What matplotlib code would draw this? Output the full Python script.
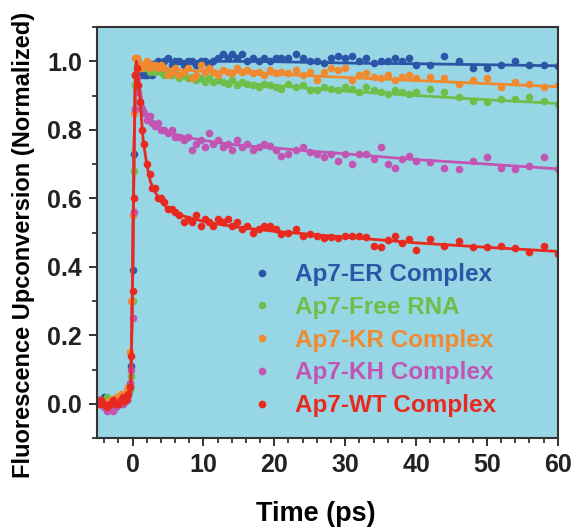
import numpy as np
import matplotlib.pyplot as plt
from matplotlib.ticker import MultipleLocator

plt.rcParams['font.family'] = ['Liberation Sans', 'DejaVu Sans']
plt.rcParams['font.weight'] = 'bold'

# tiempos de los puntos medidos (ps)
t_pts = [-4.8, -4.4, -4.0, -3.6, -3.2, -2.8, -2.4, -2.0, -1.6, -1.3, -1.0, -0.8, -0.6, -0.4, -0.2,
         0.0, 0.2, 0.4, 0.6, 0.8, 1.0, 1.3, 1.6,
         2.0, 2.4, 2.8, 3.2, 3.6, 4.0, 4.5, 5.0, 5.5, 6.0,
         6.6, 7.2, 7.8, 8.4, 9.0, 9.6, 10.2, 10.8, 11.4, 12.0,
         12.7, 13.4, 14.1, 14.8, 15.5, 16.2, 17.0, 17.8, 18.6, 19.4, 20.2,
         21, 22, 23, 24, 25, 26, 27, 28, 29, 30, 31, 32, 33, 34, 35, 36, 37, 38, 39, 40,
         42, 44, 46, 48, 50, 52, 54, 56, 58, 60]

er_pts = [0.01, 0.00, 0.02, 0.00, 0.01, -0.01, 0.00, 0.01, 0.00, 0.01, 0.02, 0.01, 0.03, 0.05, 0.11,
          0.39, 0.73, 0.96, 0.97, 0.96, 0.96, 0.97, 0.96,
          0.96, 0.97, 0.96, 0.99, 1.00, 0.99, 1.00, 1.01, 0.99, 1.00,
          1.00, 0.99, 1.00, 1.00, 0.99, 1.00, 1.00, 0.99, 1.00, 1.01,
          1.02, 1.01, 1.02, 1.01, 1.02, 1.00, 1.01, 1.00, 1.01, 1.00, 1.01,
          1.01, 1.01, 1.02, 1.01, 1.00, 1.00, 0.995, 1.01, 1.015, 1.01, 1.016, 1.00, 1.01, 0.995, 1.00, 1.00, 1.01, 1.00, 1.01, 0.99,
          0.99, 1.015, 1.00, 0.98, 0.98, 0.99, 1.00, 0.99, 0.99, 0.985]

free_pts = [0.00, 0.01, 0.00, 0.02, 0.00, 0.01, 0.00, 0.01, 0.02, 0.01, 0.02, 0.02, 0.03, 0.04, 0.08,
            0.30, 0.68, 0.93, 0.99, 0.99, 0.98, 0.99, 0.98,
            0.99, 0.97, 0.98, 0.97, 0.98, 0.97, 0.96, 0.97, 0.96, 0.965,
            0.95, 0.96, 0.95, 0.955, 0.945, 0.95, 0.94, 0.95, 0.94, 0.945,
            0.94, 0.935, 0.945, 0.93, 0.94, 0.935, 0.93, 0.925, 0.935, 0.93, 0.925,
            0.92, 0.935, 0.925, 0.93, 0.915, 0.915, 0.925, 0.92, 0.915, 0.925, 0.92, 0.91, 0.925, 0.915, 0.91, 0.905, 0.915, 0.91, 0.905, 0.91,
            0.92, 0.91, 0.895, 0.885, 0.88, 0.89, 0.89, 0.897, 0.885, 0.875]

kr_pts = [0.00, 0.01, 0.00, 0.00, 0.01, 0.00, 0.02, 0.01, 0.03, 0.02, 0.03, 0.04, 0.05, 0.15, 0.30,
          0.55, 0.85, 1.01, 1.01, 1.00, 0.99, 0.98, 0.99,
          1.00, 0.98, 0.99, 0.99, 0.98, 0.99, 0.98, 0.96, 0.97, 0.98,
          0.96, 0.97, 0.98, 0.95, 0.96, 0.99, 0.97, 0.98, 0.97, 0.96,
          0.975, 0.97, 0.965, 0.98, 0.97, 0.975, 0.965, 0.97, 0.96, 0.975, 0.965,
          0.97, 0.965, 0.975, 0.96, 0.97, 0.945, 0.97, 0.98, 0.975, 0.98, 0.945, 0.96, 0.965, 0.955, 0.95, 0.96, 0.945, 0.955, 0.96, 0.95,
          0.955, 0.95, 0.935, 0.945, 0.95, 0.925, 0.94, 0.935, 0.925, 0.93]

kh_pts = [0.01, 0.00, -0.01, -0.02, 0.00, -0.02, -0.01, 0.00, 0.01, 0.00, 0.02, 0.01, 0.03, 0.06, 0.10,
          0.25, 0.56, 0.86, 0.95, 0.91, 0.88, 0.86, 0.85,
          0.83, 0.84, 0.82, 0.81, 0.82, 0.80, 0.80, 0.79, 0.80, 0.78,
          0.78, 0.77, 0.78, 0.74, 0.76, 0.77, 0.75, 0.79, 0.76, 0.77,
          0.75, 0.76, 0.74, 0.77, 0.75, 0.76, 0.74, 0.75, 0.76, 0.753, 0.74,
          0.725, 0.73, 0.74, 0.75, 0.735, 0.73, 0.72, 0.73, 0.71, 0.73, 0.70, 0.73, 0.73, 0.715, 0.75, 0.70, 0.69, 0.715, 0.725, 0.71,
          0.705, 0.69, 0.685, 0.71, 0.72, 0.69, 0.686, 0.693, 0.72, 0.685]

wt_pts = [0.00, 0.01, 0.00, -0.01, 0.00, 0.01, 0.00, 0.00, 0.01, 0.02, 0.01, 0.02, 0.03, 0.05, 0.14,
          0.33, 0.60, 0.96, 0.98, 0.93, 0.88, 0.80, 0.76,
          0.70, 0.67, 0.63, 0.63, 0.60, 0.60, 0.59, 0.57, 0.57, 0.56,
          0.55, 0.53, 0.54, 0.53, 0.55, 0.52, 0.54, 0.53, 0.52, 0.54,
          0.53, 0.54, 0.52, 0.53, 0.51, 0.52, 0.50, 0.51, 0.52, 0.518, 0.51,
          0.495, 0.50, 0.51, 0.49, 0.495, 0.49, 0.485, 0.487, 0.484, 0.489, 0.489, 0.489, 0.487, 0.462, 0.458, 0.477, 0.49, 0.47, 0.48, 0.45,
          0.481, 0.462, 0.474, 0.458, 0.458, 0.462, 0.455, 0.442, 0.462, 0.438]

# curvas de ajuste
t_fit = [-5, -1, -0.5, -0.25, 0, 0.2, 0.4, 0.55, 0.8, 1.0, 1.5, 2, 2.5, 3, 4, 5, 6, 8, 10, 12, 15, 20, 25, 30, 40, 50, 60]
er_fit = [0, 0, 0.01, 0.04, 0.35, 0.72, 0.95, 0.985, 0.98, 0.975, 0.98, 0.99, 0.995, 0.998, 1.0, 1.0, 1.0, 1.0, 1.0, 1.0, 1.0, 0.999, 0.997, 0.995, 0.993, 0.99, 0.987]
free_fit = [0, 0, 0.01, 0.04, 0.35, 0.72, 0.95, 1.0, 0.995, 0.99, 0.985, 0.98, 0.977, 0.975, 0.97, 0.965, 0.96, 0.953, 0.947, 0.942, 0.937, 0.93, 0.921, 0.913, 0.90, 0.888, 0.877]
kr_fit = [0, 0, 0.01, 0.04, 0.35, 0.72, 0.95, 1.0, 0.995, 0.99, 0.988, 0.985, 0.983, 0.982, 0.98, 0.978, 0.976, 0.974, 0.972, 0.97, 0.967, 0.963, 0.958, 0.953, 0.944, 0.935, 0.926]
kh_fit = [0, 0, 0.01, 0.04, 0.35, 0.72, 0.95, 1.0, 0.96, 0.92, 0.87, 0.845, 0.83, 0.82, 0.805, 0.795, 0.787, 0.777, 0.769, 0.763, 0.755, 0.747, 0.738, 0.73, 0.713, 0.70, 0.686]
wt_fit = [0, 0, 0.01, 0.04, 0.35, 0.72, 0.95, 1.0, 0.95, 0.90, 0.77, 0.70, 0.65, 0.625, 0.59, 0.57, 0.557, 0.543, 0.533, 0.525, 0.515, 0.504, 0.495, 0.487, 0.47, 0.457, 0.445]

etiquetas = ['Ap7-ER Complex', 'Ap7-Free RNA', 'Ap7-KR Complex', 'Ap7-KH Complex', 'Ap7-WT Complex']
colores = ['#2b55a6', '#6cc04a', '#f18a2e', '#c255b3', '#e8291f']
puntos = [er_pts, free_pts, kr_pts, kh_pts, wt_pts]
ajustes = [er_fit, free_fit, kr_fit, kh_fit, wt_fit]

fig = plt.figure(figsize=(5.78, 5.31), dpi=100)
ax = fig.add_axes([0.168, 0.175, 0.797, 0.774])
ax.set_facecolor('#97d6e5')

for y, yf, c, lab in zip(puntos, ajustes, colores, etiquetas):
    ax.plot(t_pts, y, 'o', color=c, ms=5.5, mew=0, label=lab)
    ax.plot(t_fit, yf, '-', color=c, lw=2)

ax.set_xlim(-5, 60)
ax.set_ylim(-0.1, 1.1)
ax.xaxis.set_major_locator(MultipleLocator(10))
ax.xaxis.set_minor_locator(MultipleLocator(2))
ax.yaxis.set_major_locator(MultipleLocator(0.2))
ax.yaxis.set_minor_locator(MultipleLocator(0.1))
ax.set_yticks([0.0, 0.2, 0.4, 0.6, 0.8, 1.0])
ax.tick_params(which='major', direction='out', length=6, width=1.3, pad=5, labelsize=18, colors='#222222')
ax.tick_params(which='minor', direction='out', length=3.5, width=1.2, colors='#222222')
for s in ax.spines.values():
    s.set_linewidth(1.5)
    s.set_color('#333333')

ax.set_xlabel('Time (ps)', fontsize=19.5, fontweight='bold')
ax.xaxis.set_label_coords(0.475, -0.152)
ax.set_ylabel('Fluorescence Upconversion (Normalized)', fontsize=17, fontweight='bold')
ax.yaxis.set_label_coords(-0.134, 0.47)

leg = ax.legend(loc='upper left', bbox_to_anchor=(0.305, 0.455), frameon=False,
                handletextpad=0.85, labelspacing=0.4, handlelength=1.0, borderpad=0,
                labelcolor='linecolor', prop={'weight': 'bold', 'size': 17.5})

plt.savefig('out.png', dpi=100)
